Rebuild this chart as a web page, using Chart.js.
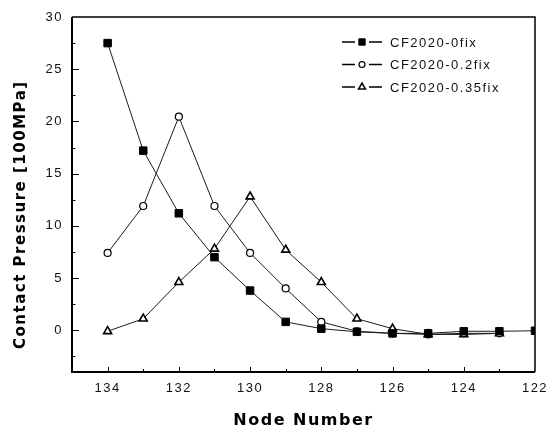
<!DOCTYPE html>
<html>
<head>
<meta charset="utf-8">
<script src="https://cdn.jsdelivr.net/npm/chart.js@4.4.0/dist/chart.umd.min.js"></script>
<style>
  html, body { margin: 0; padding: 0; background: #fff; }
  #wrap { width: 554px; height: 431px; }
</style>
</head>
<body>
<div id="wrap"><canvas id="chart" width="554" height="431"></canvas></div>
<script>
// node numbers along the x axis (reversed axis: 134 on the left)
const nodes = [134, 133, 132, 131, 130, 129, 128, 127, 126, 125, 124, 123, 122];

// contact pressure [100MPa]
const cf0 = [27.5, 17.2, 11.2, 7.0, 3.8, 0.8, 0.15, -0.15, -0.3, -0.3, -0.1, -0.1, -0.05];
const cf02 = [7.4, 11.9, 20.45, 11.9, 7.4, 4.0, 0.8, -0.1, -0.3, -0.4, -0.3, -0.3, null];
const cf035 = [-0.1, 1.1, 4.6, 7.8, 12.8, 7.7, 4.6, 1.1, 0.15, -0.4, -0.4, -0.3, null];

const seriesNames = ["CF2020-0fix", "CF2020-0.2fix", "CF2020-0.35fix"];

const xLabelTicks = [122, 124, 126, 128, 130, 132, 134];
const yLabelTicks = [0, 5, 10, 15, 20, 25, 30];

const toPoints = function(values) {
  let result = [];
  for (let i = 0; i < nodes.length; i++) {
    if (values[i] != null) {
      result.push({ x: nodes[i], y: values[i] });
    }
  }
  return result;
};

const makeDataset = function(label, values, style, radius, fill, bw) {
  return {
    label: label,
    data: toPoints(values),
    borderColor: '#1a1a1a',
    borderWidth: 1,
    pointStyle: style,
    pointRadius: radius,
    pointBorderWidth: bw,
    pointBackgroundColor: fill,
    pointBorderColor: '#000',
    tension: 0,
    fill: false
  };
};

const textFont = '"Liberation Sans", Arial, sans-serif';

// ticks drawn inward + the frame round the plot
const framePlugin = {
  id: 'frame',
  beforeDraw(chart) {
    chart.ctx.letterSpacing = '1.5px';
  },
  afterDraw(chart) {
    const ctx = chart.ctx;
    const area = chart.chartArea;
    const xs = chart.scales.x;
    const ys = chart.scales.y;
    ctx.save();
    ctx.strokeStyle = '#000';
    ctx.lineWidth = 1;
    ctx.beginPath();
    for (let v = 123; v <= 134; v++) {
      const px = Math.round(xs.getPixelForValue(v)) + 0.5;
      const len = v % 2 === 0 ? 5 : 3;
      ctx.moveTo(px, area.bottom);
      ctx.lineTo(px, area.bottom - len);
    }
    for (let v = -2.5; v < 30; v += 2.5) {
      const py = Math.round(ys.getPixelForValue(v)) + 0.5;
      const len = v % 5 === 0 ? 7 : 3.5;
      ctx.moveTo(area.left, py);
      ctx.lineTo(area.left + len, py);
    }
    ctx.stroke();

    ctx.lineWidth = 1.5;
    ctx.beginPath();
    ctx.moveTo(area.left, area.top);
    ctx.lineTo(area.right, area.top);
    ctx.lineTo(area.right, area.bottom);
    ctx.stroke();
    ctx.lineWidth = 2;
    ctx.beginPath();
    ctx.moveTo(area.left, area.top);
    ctx.lineTo(area.left, area.bottom);
    ctx.lineTo(area.right, area.bottom);
    ctx.stroke();

    // legend in the upper right corner of the plot
    ctx.font = '13px ' + textFont;
    ctx.textAlign = 'left';
    ctx.textBaseline = 'middle';
    chart.data.datasets.forEach(function(ds, i) {
      const y = area.top + 25 + i * 22.5;
      const x0 = area.right - 193;
      ctx.strokeStyle = '#000';
      ctx.lineWidth = 1.3;
      ctx.beginPath();
      ctx.moveTo(x0, y);
      ctx.lineTo(x0 + 13, y);
      ctx.moveTo(x0 + 27, y);
      ctx.lineTo(x0 + 40, y);
      ctx.stroke();
      ctx.fillStyle = ds.pointBackgroundColor;
      ctx.lineWidth = ds.pointBorderWidth;
      Chart.helpers.drawPoint(ctx, {
        pointStyle: ds.pointStyle,
        radius: ds.pointRadius * 0.85,
        borderWidth: ds.pointBorderWidth
      }, x0 + 20, y);
      ctx.fillStyle = '#111';
      ctx.fillText(ds.label, x0 + 48, y + 1);
    });
    ctx.restore();
  }
};

document.addEventListener("DOMContentLoaded", function () {
  const ctx = document.querySelector("#chart").getContext('2d');
  new Chart(ctx, {
    type: 'line',
    data: {
      datasets: [
        makeDataset(seriesNames[0], cf0, 'rect', 5.3, '#000', 1),
        makeDataset(seriesNames[1], cf02, 'circle', 3.5, '#fff', 1.2),
        makeDataset(seriesNames[2], cf035, 'triangle', 4.6, '#fff', 1.6)
      ]
    },
    options: {
      responsive: false,
      animation: false,
      layout: { padding: { top: 17, right: 19, left: 0, bottom: 0 } },
      plugins: {
        legend: { display: false },
        tooltip: { enabled: false }
      },
      scales: {
        x: {
          type: 'linear',
          reverse: true,
          min: 122,
          max: 135,
          grid: { display: false, drawTicks: false },
          border: { display: false },
          afterBuildTicks: function(scale) {
            scale.ticks = xLabelTicks.map(v => ({ value: v }));
          },
          afterFit: function(scale) { scale.height = 59; },
          ticks: {
            autoSkip: false,
            maxRotation: 0,
            padding: 9,
            color: '#111',
            font: { family: textFont, size: 13 }
          },
          title: {
            display: true,
            text: 'Node Number',
            color: '#000',
            padding: { top: 0, bottom: 1 },
            font: { family: '"DejaVu Sans", sans-serif', size: 16, weight: 'bold' }
          }
        },
        y: {
          type: 'linear',
          min: -4,
          max: 30,
          grid: { display: false, drawTicks: false },
          border: { display: false },
          afterBuildTicks: function(scale) {
            scale.ticks = yLabelTicks.map(v => ({ value: v }));
          },
          afterFit: function(scale) { scale.width = 72; },
          ticks: {
            autoSkip: false,
            padding: 9,
            color: '#111',
            font: { family: textFont, size: 13 }
          },
          title: {
            display: true,
            // trailing spaces push the words down a little, like the original
            text: 'Contact Pressure [100MPa]      ',
            color: '#000',
            padding: { top: 12, bottom: 0 },
            font: { family: '"DejaVu Sans", sans-serif', size: 15, weight: 'bold' }
          }
        }
      }
    },
    plugins: [framePlugin]
  });
});
</script>
</body>
</html>
